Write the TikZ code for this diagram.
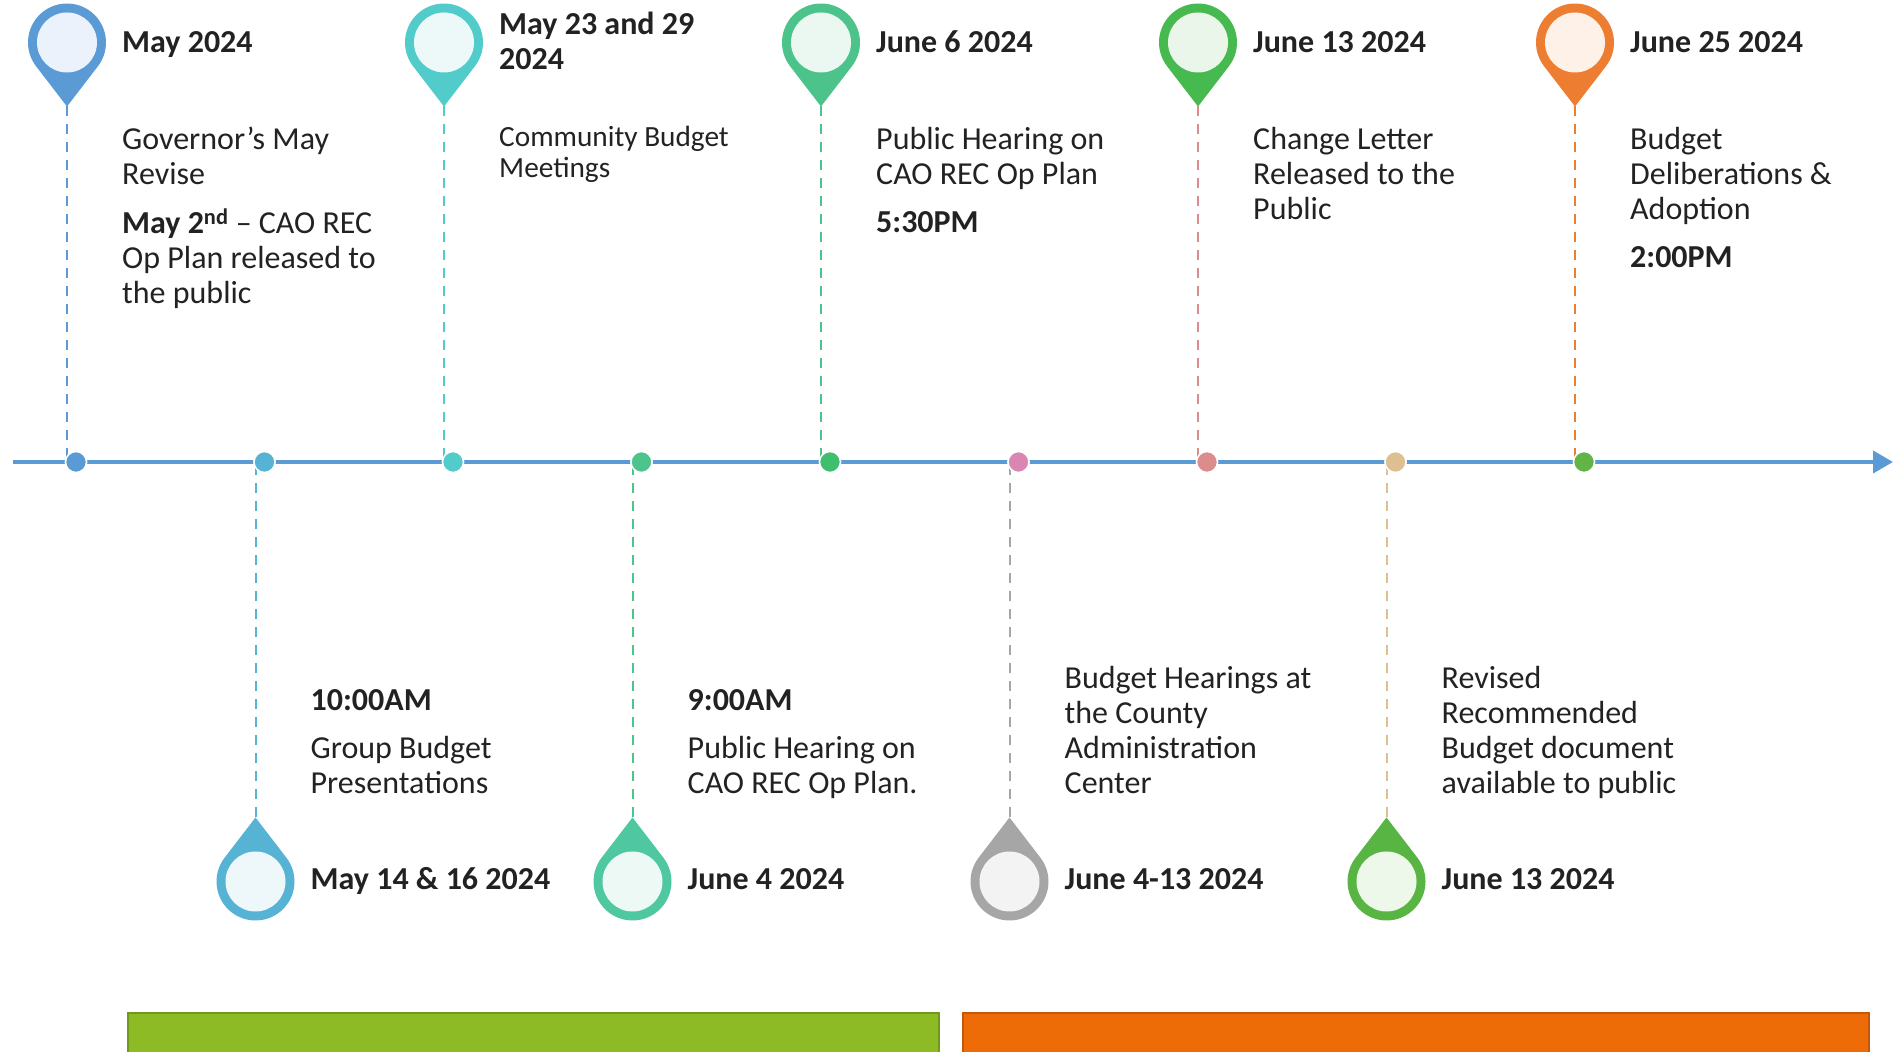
\documentclass[tikz,border=0pt]{standalone}
\usepackage{fontspec}
\setmainfont{Carlito}
\usetikzlibrary{calc,arrows.meta}

\definecolor{txt}{HTML}{222222}
\definecolor{axis}{HTML}{5B9BD5}
\definecolor{pinA}{HTML}{5B9BD5}\definecolor{lightA}{HTML}{EBF2FB}
\definecolor{pinB}{HTML}{57B3D4}\definecolor{lightB}{HTML}{EEF7FA}
\definecolor{pinC}{HTML}{52CBCB}\definecolor{lightC}{HTML}{EDF9F9}
\definecolor{pinD}{HTML}{4FC7A0}\definecolor{lightD}{HTML}{ECF9F4}
\definecolor{pinE}{HTML}{4CC38A}\definecolor{lightE}{HTML}{EBF8F1}
\definecolor{pinF}{HTML}{A6A6A6}\definecolor{lightF}{HTML}{F3F3F3}
\definecolor{pinG}{HTML}{46BA4F}\definecolor{lightG}{HTML}{EBF6EB}
\definecolor{pinH}{HTML}{58B543}\definecolor{lightH}{HTML}{EDF7EA}
\definecolor{pinI}{HTML}{ED7D31}\definecolor{lightI}{HTML}{FDF1E8}
\definecolor{dotD}{HTML}{4DC48C}
\definecolor{dotE}{HTML}{3FBF6E}
\definecolor{dotF}{HTML}{D987B2}
\definecolor{dotG}{HTML}{DB8D8D}
\definecolor{dotH}{HTML}{DDBF91}
\definecolor{dotI}{HTML}{62B446}
\definecolor{barG}{HTML}{8DBB25}\definecolor{barGd}{HTML}{6E9A1D}
\definecolor{barO}{HTML}{ED6C07}\definecolor{barOd}{HTML}{C5570F}

% lines stacked from the baseline of the first one
\newcommand{\stack}[1]{\begin{tabular}[t]{@{}l@{}}#1\end{tabular}}

\begin{document}
\begin{tikzpicture}[x=1pt,y=1pt,
  dot/.style={circle,draw=white,line width=1.5pt,inner sep=0pt,minimum size=21pt},
  stem/.style={dash pattern=on 10pt off 8pt,line width=2pt},
  label/.style={anchor=base west,inner sep=0pt,text=txt,font=\fontsize{32}{35}\selectfont},
  date/.style={label,font=\fontsize{32}{35}\selectfont\bfseries}]
  \useasboundingbox (0,0) rectangle (1893,1052);

  % time axis
  \coordinate (start) at (13,590);
  \coordinate (end) at (1893,590);
  \draw[axis,line width=4pt,-{Triangle[length=20pt,width=22pt]}] (start) -- (end);

  % stems, dots and pins
  \foreach \n/\x/\s/\c/\l/\d/\k in {1/67/1/pinA/lightA/pinA/pinA,2/255.5/-1/pinB/lightB/pinB/pinB,3/444/1/pinC/lightC/pinC/pinC,4/632.5/-1/pinD/lightD/dotD/dotD,5/821/1/pinE/lightE/pinE/dotE,6/1009.5/-1/pinF/lightF/pinF/dotF,7/1198/1/pinG/lightG/dotG/dotG,8/1386.5/-1/pinH/lightH/dotH/dotH,9/1575/1/pinI/lightI/pinI/dotI}
  {
    \coordinate (c\n) at (\x,{590+419.5*\s});
    \coordinate (tip\n) at ($(c\n)+(0,-64*\s)$);
    \node[dot,fill=\k] (d\n) at (\x+9,590) {};
    \draw[stem,\d] (tip\n) -- (tip\n |- d\n.center);
    \node[dot,fill=\k] at (d\n) {};
    \fill[\c] (tip\n) -- ($(c\n)+({-90*\s+52.4}:39)$) arc[start angle={-90*\s+52.4},delta angle=255.2,radius=39] -- cycle;
    \fill[\l] (c\n) circle[radius=30];
  }

  % dates above
  \node[date] (t1) at (122,999) {May 2024};
  \node[date] (t3) at (499,1017) {\stack{May 23 and 29\\2024}};
  \node[date] (t5) at (876,999) {June 6 2024};
  \node[date] (t7) at (1253,999) {June 13 2024};
  \node[date] (t9) at (1630,999) {June 25 2024};

  % dates below
  \node[date] (t2) at (310.5,162) {May 14 \& 16 2024};
  \node[date] (t4) at (687.5,162) {June 4 2024};
  \node[date] (t6) at (1064.5,162) {June 4-13 2024};
  \node[date] (t8) at (1441.5,162) {June 13 2024};

  % events
  \node[label] (e1) at (122,902) {\stack{Governor’s May\\Revise\\[13pt]\textbf{May 2\textsuperscript{nd}} – CAO REC\\Op Plan released to\\the public}};
  \node[label,font=\fontsize{29.3}{31}\selectfont] (e3) at (499,905) {\stack{Community Budget\\Meetings}};
  \node[label] (e5) at (876,902) {\stack{Public Hearing on\\CAO REC Op Plan\\[13pt]\textbf{5:30PM}}};
  \node[label] (e7) at (1253,902) {\stack{Change Letter\\Released to the\\Public}};
  \node[label] (e9) at (1630,902) {\stack{Budget\\Deliberations \&\\Adoption\\[13pt]\textbf{2:00PM}}};
  \node[label] (e2) at (310.5,341) {\stack{\textbf{10:00AM}\\[13pt]Group Budget\\Presentations}};
  \node[label] (e4) at (687.5,341) {\stack{\textbf{9:00AM}\\[13pt]Public Hearing on\\CAO REC Op Plan.}};
  \node[label] (e6) at (1064.5,363) {\stack{Budget Hearings at\\the County\\Administration\\Center}};
  \node[label] (e8) at (1441.5,363) {\stack{Revised\\Recommended\\Budget document\\available to public}};

  % phase bars
  \draw[barGd,fill=barG,line width=2pt] (128,-5) rectangle (939,39);
  \draw[barOd,fill=barO,line width=2pt] (963,-5) rectangle (1869,39);
\end{tikzpicture}
\end{document}
